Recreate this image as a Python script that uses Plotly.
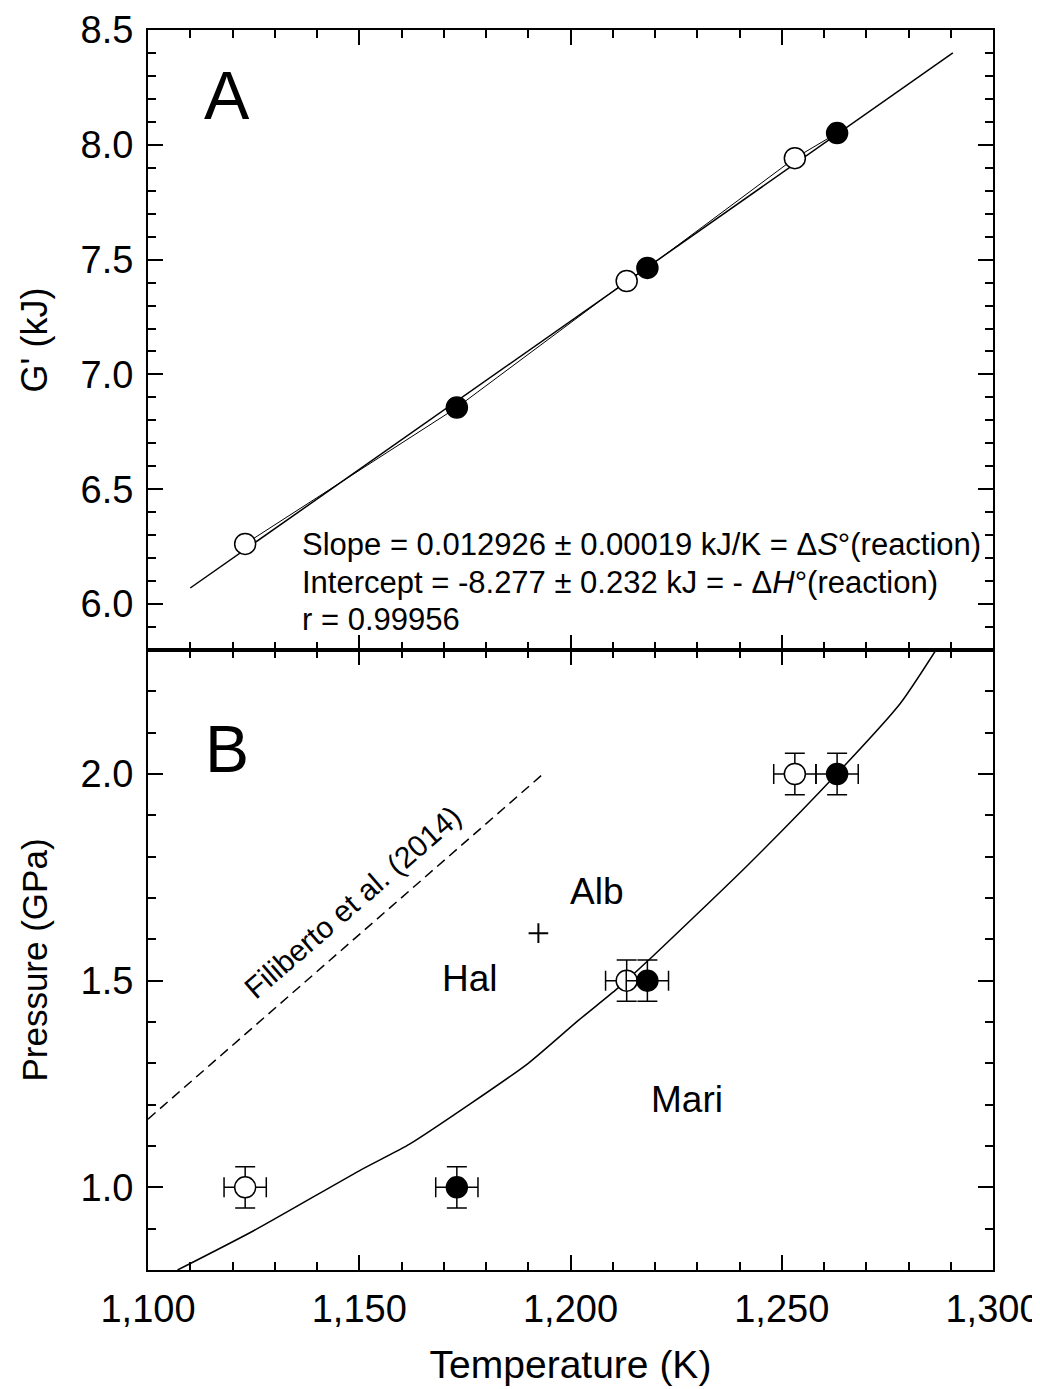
import plotly.graph_objects as go
from plotly.subplots import make_subplots

# ---------------- Panel A data ----------------
A_T_open = [1123.0, 1213.3, 1253.1]
A_G_open = [6.262, 7.407, 7.942]
A_T_filled = [1173.1, 1218.2, 1263.1]
A_G_filled = [6.856, 7.464, 8.051]
fit_T = [1110.0, 1290.5]
fit_G = [6.07, 8.40]

# ---------------- Panel B data ----------------
B_T_open = [1123.0, 1213.3, 1253.1]
B_P_open = [1.0, 1.5, 2.0]
B_T_filled = [1173.1, 1218.2, 1263.1]
B_P_filled = [1.0, 1.5, 2.0]
T_err = 5.0
P_err = 0.05
curve_T = [1107, 1125, 1150, 1162, 1176, 1190, 1202, 1211, 1218, 1242, 1263, 1278, 1286.5]
curve_P = [0.80, 0.895, 1.04, 1.105, 1.20, 1.30, 1.405, 1.48, 1.545, 1.78, 2.0, 2.17, 2.30]
fil_T = [1100.0, 1193.5]
fil_P = [1.165, 2.0]
cross_T = [1192.4]
cross_P = [1.615]

x_ticks = [1100, 1150, 1200, 1250, 1300]
yA_ticks = [6.0, 6.5, 7.0, 7.5, 8.0, 8.5]
yB_ticks = [1.0, 1.5, 2.0]

FONT = "Liberation Sans, Arial, sans-serif"

fig = make_subplots(rows=2, cols=1, shared_xaxes=True, vertical_spacing=0)

# connecting line through the data (panel A)
pts = sorted(zip(A_T_open + A_T_filled, A_G_open + A_G_filled))
fig.add_trace(go.Scatter(x=[p[0] for p in pts], y=[p[1] for p in pts], mode="lines",
                         line=dict(color="black", width=1), showlegend=False), row=1, col=1)
fig.add_trace(go.Scatter(x=fit_T, y=fit_G, mode="lines",
                         line=dict(color="black", width=1.5), showlegend=False), row=1, col=1)
fig.add_trace(go.Scatter(x=A_T_open, y=A_G_open, mode="markers",
                         marker=dict(size=21, color="white", line=dict(color="black", width=1.5)),
                         showlegend=False), row=1, col=1)
fig.add_trace(go.Scatter(x=A_T_filled, y=A_G_filled, mode="markers",
                         marker=dict(size=21, color="black", line=dict(color="black", width=1.5)),
                         showlegend=False), row=1, col=1)

# panel B
fig.add_trace(go.Scatter(x=fil_T, y=fil_P, mode="lines",
                         line=dict(color="black", width=1.5, dash="10px,6px"), showlegend=False), row=2, col=1)
fig.add_trace(go.Scatter(x=curve_T, y=curve_P, mode="lines", line_shape="spline",
                         line=dict(color="black", width=1.5, smoothing=0.6), showlegend=False), row=2, col=1)
eb_x = dict(type="constant", value=T_err, color="black", thickness=1.5, width=10)
eb_y = dict(type="constant", value=P_err, color="black", thickness=1.5, width=10)
fig.add_trace(go.Scatter(x=B_T_open, y=B_P_open, mode="markers", error_x=eb_x, error_y=eb_y,
                         marker=dict(size=21, color="white", line=dict(color="black", width=1.5)),
                         showlegend=False), row=2, col=1)
fig.add_trace(go.Scatter(x=B_T_filled, y=B_P_filled, mode="markers", error_x=eb_x, error_y=eb_y,
                         marker=dict(size=21, color="black", line=dict(color="black", width=1.5)),
                         showlegend=False), row=2, col=1)
fig.add_trace(go.Scatter(x=cross_T, y=cross_P, mode="markers",
                         marker=dict(symbol="cross-thin", size=14, line=dict(color="black", width=2)),
                         showlegend=False), row=2, col=1)

axis_common = dict(showline=True, linecolor="black", linewidth=2, mirror="allticks",
                   ticks="inside", ticklen=15, tickwidth=1.5, tickcolor="black",
                   showgrid=False, zeroline=False, automargin=False)

fig.update_xaxes(range=[1100, 1300], tickvals=x_ticks, tickformat=",d",
                 tickfont=dict(family=FONT, size=38, color="black"),
                 minor=dict(dtick=10, ticks="inside", ticklen=8, tickwidth=1.5, tickcolor="black", showgrid=False),
                 **axis_common)
fig.update_xaxes(showticklabels=False, row=1, col=1)
fig.update_xaxes(title=dict(text="Temperature (K)", font=dict(family=FONT, size=39, color="black"), standoff=22),
                 ticklabelstandoff=4, row=2, col=1)

fig.update_yaxes(range=[5.8, 8.5], tickvals=yA_ticks, tickformat=".1f",
                 tickfont=dict(family=FONT, size=38, color="black"),
                 minor=dict(dtick=0.1, tick0=5.8, ticks="inside", ticklen=8, tickwidth=1.5, tickcolor="black", showgrid=False),
                 title=dict(text="G' (kJ)", font=dict(family=FONT, size=36, color="black"), standoff=22),
                 ticklabelstandoff=5, row=1, col=1, **axis_common)
fig.update_yaxes(range=[0.8, 2.3], tickvals=yB_ticks, tickformat=".1f",
                 tickfont=dict(family=FONT, size=38, color="black"),
                 minor=dict(dtick=0.1, tick0=0.8, ticks="inside", ticklen=8, tickwidth=1.5, tickcolor="black", showgrid=False),
                 title=dict(text="Pressure (GPa)", font=dict(family=FONT, size=35, color="black"), standoff=22),
                 ticklabelstandoff=5, row=2, col=1, **axis_common)

fig.update_layout(yaxis=dict(domain=[0.5, 1.0]), yaxis2=dict(domain=[0.0, 0.5]))

ann_font = dict(family=FONT, size=31, color="black")
annotations = [
    dict(x=1118.6, y=8.217, xref="x", yref="y", text="A", showarrow=False,
         font=dict(family=FONT, size=68, color="black")),
    dict(x=1136, y=6.261, xref="x", yref="y", xanchor="left",
         text="Slope = 0.012926 ± 0.00019 kJ/K = Δ<i>S</i>°(reaction)", showarrow=False, font=ann_font),
    dict(x=1136, y=6.096, xref="x", yref="y", xanchor="left",
         text="Intercept = -8.277 ± 0.232 kJ = - Δ<i>H</i>°(reaction)", showarrow=False, font=ann_font),
    dict(x=1136, y=5.935, xref="x", yref="y", xanchor="left",
         text="r = 0.99956", showarrow=False, font=ann_font),
    dict(x=1118.6, y=2.06, xref="x2", yref="y2", text="B", showarrow=False,
         font=dict(family=FONT, size=66, color="black")),
    dict(x=1206.2, y=1.715, xref="x2", yref="y2", text="Alb", showarrow=False,
         font=dict(family=FONT, size=37, color="black")),
    dict(x=1176.2, y=1.506, xref="x2", yref="y2", text="Hal", showarrow=False,
         font=dict(family=FONT, size=37, color="black")),
    dict(x=1227.6, y=1.212, xref="x2", yref="y2", text="Mari", showarrow=False,
         font=dict(family=FONT, size=37, color="black")),
    dict(x=1148.3, y=1.69, xref="x2", yref="y2", text="Filiberto et al. (2014)", showarrow=False,
         textangle=-41, font=dict(family=FONT, size=30, color="black")),
]

# page body has an 8 px default margin, so margins are reduced by 8 px on the left and top
fig.update_layout(width=1040, height=1389, margin=dict(l=140, r=55, t=22, b=127),
                  paper_bgcolor="white", plot_bgcolor="white",
                  font=dict(family=FONT, color="black"),
                  annotations=annotations, showlegend=False)

fig.write_html("out.html")
